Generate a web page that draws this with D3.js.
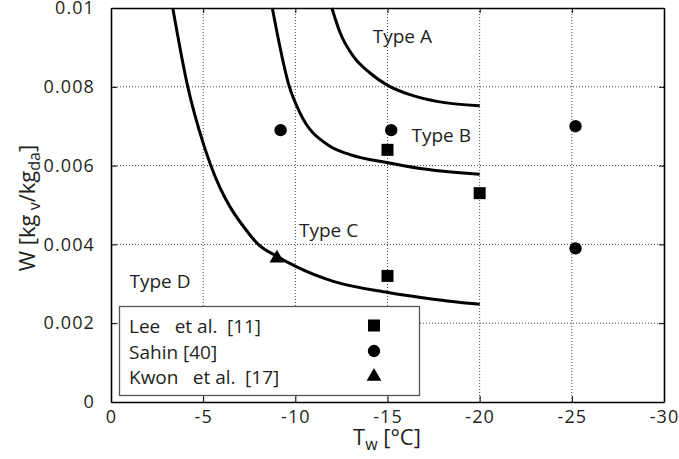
<!DOCTYPE html>
<html><head><meta charset="utf-8">
<script src="https://cdn.jsdelivr.net/npm/d3@7"></script>
<style>
html,body{margin:0;padding:0;background:#fff;}
svg{display:block;}
text{font-family:"Open Sans",sans-serif;fill:#231f20;}
</style></head>
<body>
<svg id="chart" width="679" height="459"></svg>
<script>
// ---- data ----
const xTickValues = [0, -5, -10, -15, -20, -25, -30];
const xTickLabels = ["0", "-5", "-10", "-15", "-20", "-25", "-30"];
const yTickValues = [0, 0.002, 0.004, 0.006, 0.008, 0.01];
const yTickLabels = ["0", "0.002", "0.004", "0.006", "0.008", "0.01"];

const curveA = [[-11.98,0.0100],[-12.43,0.00937],[-13.15,0.00877],[-14.05,0.00835],[-15.03,0.00803],[-16.22,0.00780],[-17.67,0.00763],[-20.0,0.00752]];
const curveB = [[-8.75,0.0100],[-9.67,0.00801],[-10.25,0.00734],[-11.88,0.00649],[-12.97,0.00628],[-15.03,0.00607],[-16.59,0.00594],[-20.0,0.00578]];
const curveC = [[-3.35,0.0100],[-4.16,0.00801],[-5.0,0.00657],[-5.41,0.00601],[-7.54,0.00424],[-7.99,0.00400],[-9.0,0.00370],[-10.02,0.00344],[-12.06,0.00306],[-15.03,0.00278],[-17.49,0.00261],[-20.0,0.00248]];

const leeData   = [[-15.0,0.0064],[-20.0,0.0053],[-15.0,0.0032]];
const sahinData = [[-9.2,0.0069],[-15.2,0.0069],[-25.2,0.0070],[-25.2,0.0039]];
const kwonData  = [[-9.0,0.00365]];

const regionLabels = ["Type A","Type B","Type C","Type D"];
const regionPos = [[-14.2,0.0091],[-16.3,0.0066],[-10.2,0.0042],[-1.0,0.0029]];

const legendNames = ["Lee\u2002 et al.\u2002[11]", "Sahin [40]", "Kwon\u2002 et al.\u2002[17]"];
const legendSymbols = ["square","circle","triangle"];

// ---- chart ----
const svg = d3.select("#chart");
const L = 111, R = 664, T = 8, B = 402;
const x = d3.scaleLinear().domain([0, -30]).range([L, R]);
const y = d3.scaleLinear().domain([0, 0.01]).range([B, T]);

// grid
const grid = svg.append("g");
grid.selectAll("line.gx").data(xTickValues.slice(1, -1)).join("line")
  .attr("x1", d => x(d)).attr("x2", d => x(d)).attr("y1", T).attr("y2", B)
  .attr("stroke", "#444").attr("stroke-width", 1).attr("stroke-dasharray", "1,2");
grid.selectAll("line.gy").data(yTickValues.slice(1, -1)).join("line")
  .attr("x1", L).attr("x2", R).attr("y1", d => y(d)).attr("y2", d => y(d))
  .attr("stroke", "#444").attr("stroke-width", 1).attr("stroke-dasharray", "1,2");

// axes
const fmtX = (d, i) => xTickLabels[i];
const fmtY = (d, i) => yTickLabels[i];
const axB = svg.append("g").attr("transform", `translate(0,${B})`)
  .call(d3.axisBottom(x).tickValues(xTickValues).tickFormat(fmtX).tickSizeInner(-6).tickSizeOuter(0).tickPadding(8));
const axL = svg.append("g").attr("transform", `translate(${L},0)`)
  .call(d3.axisLeft(y).tickValues(yTickValues).tickFormat(fmtY).tickSizeInner(-6).tickSizeOuter(0).tickPadding(16));
const axT = svg.append("g").attr("transform", `translate(0,${T})`)
  .call(d3.axisTop(x).tickValues(xTickValues).tickFormat("").tickSizeInner(-5).tickSizeOuter(0));
const axR = svg.append("g").attr("transform", `translate(${R},0)`)
  .call(d3.axisRight(y).tickValues(yTickValues).tickFormat("").tickSizeInner(-5).tickSizeOuter(0));
[axB, axL, axT, axR].forEach(a => {
  a.select(".domain").attr("stroke", "#000").attr("stroke-width", 1.6);
  a.selectAll(".tick line").attr("stroke", "#000").attr("stroke-width", 1);
  a.selectAll(".tick text").attr("font-size", 18).attr("letter-spacing", 1.1)
    .attr("font-family", '"Open Sans",sans-serif').attr("fill", "#231f20");
});

// curves
const line = d3.line().x(d => x(d[0])).y(d => y(d[1])).curve(d3.curveMonotoneX);
[curveA, curveB, curveC].forEach(c => {
  svg.append("path").attr("d", line(c)).attr("fill", "none").attr("stroke", "#000").attr("stroke-width", 3);
});

// region labels
svg.selectAll("text.region").data(regionLabels).join("text")
  .attr("class", "region")
  .attr("x", (d, i) => x(regionPos[i][0])).attr("y", (d, i) => y(regionPos[i][1]))
  .attr("font-size", 19).text(d => d);

// markers
const sym = {
  square: d3.symbol().type(d3.symbolSquare).size(144),
  circle: d3.symbol().type(d3.symbolCircle).size(120),
  triangle: d3.symbol().type(d3.symbolTriangle).size(95)
};
svg.selectAll("path.lee").data(leeData).join("path").attr("class", "lee")
  .attr("d", sym.square()).attr("transform", d => `translate(${x(d[0])},${y(d[1])})`).attr("fill", "#000");
svg.selectAll("path.sahin").data(sahinData).join("path").attr("class", "sahin")
  .attr("d", sym.circle()).attr("transform", d => `translate(${x(d[0])},${y(d[1])})`).attr("fill", "#000");
svg.selectAll("path.kwon").data(kwonData).join("path").attr("class", "kwon")
  .attr("d", sym.triangle()).attr("transform", d => `translate(${x(d[0])},${y(d[1])})`).attr("fill", "#000");

// legend
const lg = svg.append("g");
lg.append("rect").attr("x", 119.5).attr("y", 306.5).attr("width", 300).attr("height", 89)
  .attr("fill", "#fff").attr("stroke", "#555").attr("stroke-width", 1.3);
legendNames.forEach((n, i) => {
  lg.append("text").attr("x", 129).attr("y", 333 + i * 25.5).attr("font-size", 19).text(n);
  lg.append("path").attr("d", sym[legendSymbols[i]]())
    .attr("transform", `translate(374,${325.5 + i * 25.5})`).attr("fill", "#000");
});

// axis titles
const xt = svg.append("text").attr("x", 353).attr("y", 445).attr("font-size", 22);
xt.append("tspan").text("T");
xt.append("tspan").attr("dy", 5).attr("font-size", 16).text("w");
xt.append("tspan").attr("dy", -5).text(" [°C]");

const yt = svg.append("text").attr("transform", "translate(35,208) rotate(-90)")
  .attr("text-anchor", "middle").attr("font-size", 22);
yt.append("tspan").text("W [kg");
yt.append("tspan").attr("dy", 5).attr("font-size", 16).text(" v");
yt.append("tspan").attr("dy", -5).text("/kg");
yt.append("tspan").attr("dy", 5).attr("font-size", 16).text("da");
yt.append("tspan").attr("dy", -5).text("]");
</script>
</body></html>
